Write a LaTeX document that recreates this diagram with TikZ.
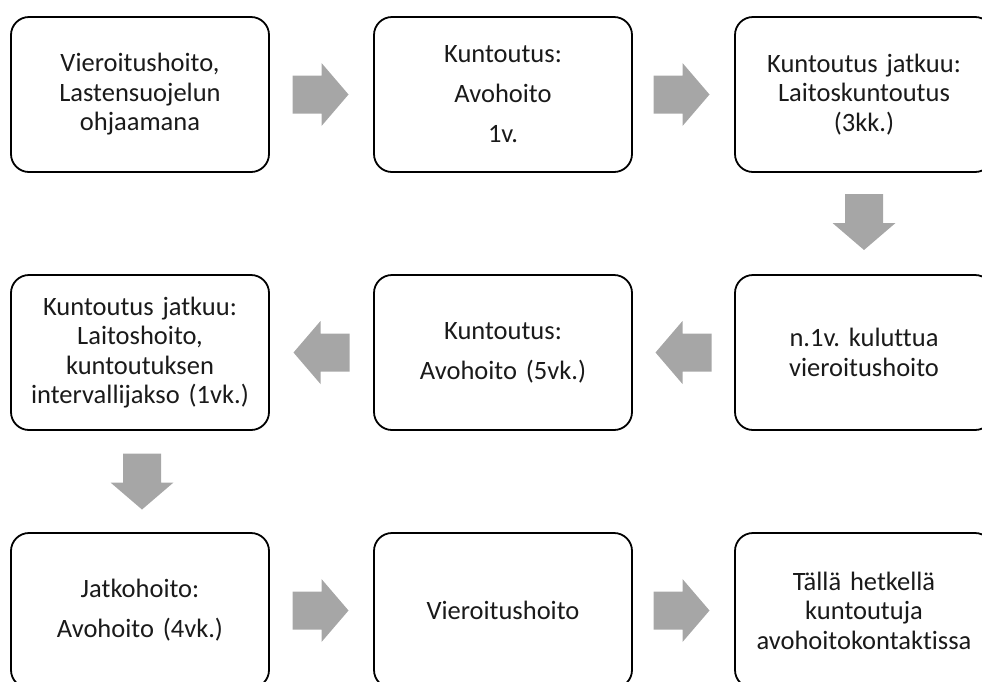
\documentclass[tikz,border=0pt]{standalone}
\usepackage{fontspec}
\setmainfont{Carlito}[Ligatures={NoCommon}, WordSpace=0.8]
\usetikzlibrary{calc}
\definecolor{arrowgray}{HTML}{A6A6A6}
\definecolor{textcol}{HTML}{1A1A1A}
\tikzset{
  box/.style={draw=black, line width=1.8pt, rounded corners=18pt, fill=white,
    minimum width=258pt, minimum height=155pt, inner sep=0pt,
    text width=250pt, align=center, text=textcol,
    font=\fontsize{26.5}{29.5}\selectfont\frenchspacing},
  barrow/.pic={\fill[arrowgray] (-28,-19) -- (1,-19) -- (1,-31.5) -- (28,0) -- (1,31.5) -- (1,19) -- (-28,19) -- cycle;}
}
\begin{document}
\begin{tikzpicture}[x=1pt,y=1pt]
\useasboundingbox (0,0) rectangle (982,-681);
\node[box] (a1) at (140,-94.5) {Vieroitushoito,\\Lastensuojelun\\ohjaamana};
\node[box] (a2) at (503,-94.5) {Kuntoutus:\\[10.5pt]Avohoito\\[10.5pt]1v.};
\node[box] (a3) at (864,-94.5) {Kuntoutus jatkuu:\\Laitoskuntoutus\\(3kk.)};
\node[box] (b3) at (864,-352.5) {n.1v. kuluttua\\vieroitushoito};
\node[box] (b2) at (503,-352.5) {Kuntoutus:\\[10.5pt]Avohoito (5vk.)};
\node[box] (b1) at (140,-352.5) {Kuntoutus jatkuu:\\Laitoshoito,\\kuntoutuksen\\intervallijakso (1vk.)};
\node[box] (c1) at (140,-610.5) {Jatkohoito:\\[10.5pt]Avohoito (4vk.)};
\node[box] (c2) at (503,-610.5) {Vieroitushoito};
\node[box] (c3) at (864,-610.5) {Tällä hetkellä\\kuntoutuja\\avohoitokontaktissa};
\pic at ($(a1.east)!0.5!(a2.west)+(-1,0)$) {barrow};
\pic at ($(a2.east)!0.5!(a3.west)+(-2,0)$) {barrow};
\pic[rotate=-90] at ($(a3.south)!0.5!(b3.north)+(0,1.5)$) {barrow};
\pic[rotate=180] at ($(b3.west)!0.5!(b2.east)$) {barrow};
\pic[rotate=180] at ($(b2.west)!0.5!(b1.east)$) {barrow};
\pic[rotate=-90] at ($(b1.south)!0.5!(c1.north)+(2,0)$) {barrow};
\pic at ($(c1.east)!0.5!(c2.west)+(-1,0)$) {barrow};
\pic at ($(c2.east)!0.5!(c3.west)+(-2,0)$) {barrow};
\end{tikzpicture}
\end{document}
